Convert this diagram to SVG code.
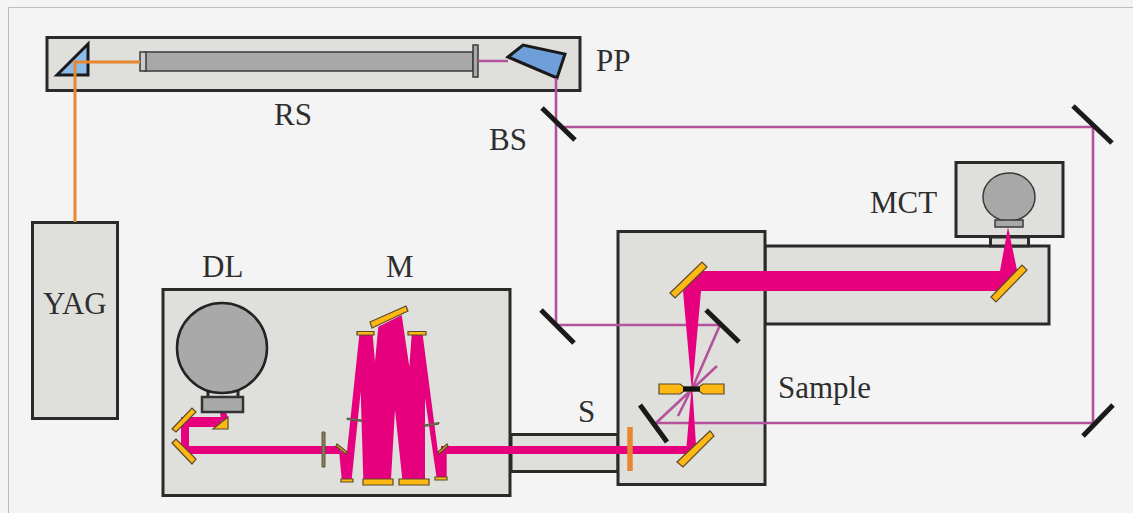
<svg xmlns="http://www.w3.org/2000/svg" width="1133" height="513" viewBox="0 0 1133 513">
<style>
.box{fill:#dfdfdc;stroke:#2a2a2a;stroke-width:3}
.gray{fill:#a8a8a8;stroke:#3a3a3a;stroke-width:1.5}
.gray2{fill:#a9a9a9;stroke:#333;stroke-width:2.5}
.yel{fill:#fdb813;stroke:#5a4a2a;stroke-width:1.2}
.mir{stroke:#1a1a1a;stroke-width:5;fill:none}
.thin{stroke:#b5529c;stroke-width:2.6;fill:none}
.or{stroke:#e8872f;stroke-width:3;fill:none}
.beam{fill:#e6007e}
.blue{fill:#6f9fd8;stroke:#1a1a1a;stroke-width:3}
.slit{fill:#8a7a50;stroke:#5a5a4a;stroke-width:1}
text{font-family:"Liberation Serif","Times New Roman",serif;font-size:31px;fill:#2e2e2e}
</style>
<rect width="1133" height="513" fill="#f4f4f4"/>
<path d="M8.500 513V7.500H1133" fill="none" stroke="#bdbdbd" stroke-width="1"/>

<g id="YAG"><rect class="box" x="32.500" y="222.500" width="85" height="196"/><text x="43" y="314">YAG</text></g>
<g id="PP-stage">
<rect class="box" x="47" y="37.500" width="533" height="53"/>
<path class="blue" style="fill:#8dbce8" d="M57 75 88 44V75Z"/>
<path class="blue" d="M508 57 523 45 565 54 557 78Z"/>
<text x="596" y="71">PP</text>
</g>
<g id="RS">
<rect class="gray" x="145" y="52" width="328" height="19"/>
<rect x="140" y="52" width="6" height="19" fill="#ccc" stroke="#3a3a3a" stroke-width="1.500"/>
<rect class="gray" x="473" y="45" width="5" height="32"/>
<text x="274" y="125">RS</text>
</g>
<g id="BS"><text x="489" y="150">BS</text></g>
<g id="S"><rect class="box" x="511" y="434.500" width="107" height="37"/><text x="578" y="422">S</text></g>
<g id="MCT-arm"><rect class="box" x="765" y="246" width="284" height="78"/></g>
<g id="MCT">
<rect class="box" x="990.500" y="237" width="38" height="9"/>
<rect class="box" x="956" y="162.500" width="107" height="74"/>
<ellipse class="gray" cx="1009" cy="197" rx="26" ry="24"/>
<rect class="gray" x="995" y="220" width="28" height="7"/>
<text x="870" y="213">MCT</text>
</g>
<g id="DL-M-box"><rect class="box" x="163" y="289.500" width="347" height="206"/><text x="202" y="277">DL</text><text x="386" y="277">M</text></g>
<g id="Sample-box"><rect class="box" x="618" y="231.500" width="147" height="253"/><text x="778" y="398">Sample</text></g>

<g id="connectors">
<path class="or" d="M75 222V62H140"/>
<path class="thin" d="M478 61H508M556 78V325H720L692 389M562 127H1093V423H656L717 366M678 416 692 388"/>
<path class="beam" d="M181 417H221V427H189V446H340V454H181Z"/>
<path class="beam" d="M220 413 226 412 228 418 222 424Z"/>
<path class="beam" d="M341.700 479.300 339 450 346.700 454.300 359.300 335H372.700L375 361.700 378.300 326.700 401.700 315 409.300 366.700 411.700 335H422.700L438 452 446.700 445V478.300H436.700L425 398.300V479.300H402.300L395 410 391 479.300H363.300L360.700 391.700 351.700 479.300Z"/>
<path class="beam" d="M441 446H696V454H441ZM686 452 692 383 696 445ZM683 291 692 280 701 271H1000L1008 227 1017 270 1019 274 996 291H701L692 392Z"/>
</g>

<g id="mirrors">
<path class="mir" d="M542 108 575 140M541 310 574 343M1073 106 1112 143M1083 436 1113 405M706 310 739 342M640 405 667 442"/>
<path class="yel" d="M670 293 702 262 707 267 675 298ZM677 462 710 431 714 436 683 467ZM991 297 1022 265 1027 270 996 302ZM172 429 192 408 196 412 176 432ZM172 443 176 439 196 459 192 464ZM213 429 228 417V429ZM370 322 406 306 408 311 372 328Z"/>
<path class="yel" d="M363 479h30v6h-30zM399 479h30v6h-30zM357 331.500h17v3.500h-17zM408 331.500h18v3.500h-18zM341 479h12v3h-12zM435 477h12v3h-12zM337 444 347 452 346 454 336 446ZM438 452 447 444 448 446 439 454Z"/>
<path class="slit" d="M322 432h3v35h-3zM347 418l15 2v1.500l-15-2zM424 425l15-2.500v1.500l-15 2.500z"/>
<path d="M630 427V471" stroke="#e8872f" stroke-width="5.500" fill="none"/>
</g>

<g id="sample">
<path class="yel" d="M659 384H680L684 387H699L703 384H724V394H703L699 391H684L680 394H659Z"/>
<rect x="683" y="386.500" width="17" height="5" fill="#111"/>
</g>
<g id="DL">
<rect class="box" x="208" y="388" width="30" height="10"/>
<circle cx="222" cy="348" r="45" fill="#a9a9a9" stroke="#222" stroke-width="2.500"/>
<rect class="gray2" x="202" y="397" width="41" height="15"/>
</g>
</svg>
